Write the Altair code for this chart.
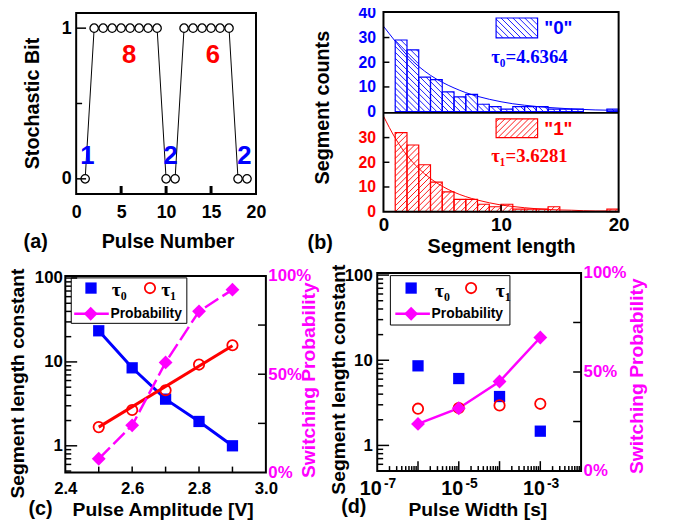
import math
import altair as alt
import pandas as pd

# ---------------- data ----------------
pulse_number = list(range(1, 20))
stochastic_bit = [0, 1, 1, 1, 1, 1, 1, 1, 1, 0, 0, 1, 1, 1, 1, 1, 1, 0, 0]
run_text = ["1", "8", "2", "6", "2"]
run_x = [1.25, 5.9, 10.5, 15.2, 18.7]
run_y = [0.15, 0.82, 0.15, 0.82, 0.15]
run_kind = ["zero", "one", "zero", "one", "zero"]

seg_bin_start = list(range(1, 20))
seg_counts_0 = [29, 25, 14, 13, 8, 6, 7, 3, 2, 1, 2, 2, 2, 1, 1, 1, 0, 0, 1]
seg_counts_1 = [32, 27, 19, 12, 8, 5, 5, 3, 2, 3, 1, 1, 1, 2, 0, 0, 0, 0, 1]
fit_len = list(range(0, 21))
fit_counts_0 = [34.6, 28.5, 22.8, 18.3, 14.7, 11.9, 9.6, 7.7, 6.2, 5.0, 4.0,
                3.2, 2.6, 2.1, 1.7, 1.4, 1.1, 0.9, 0.7, 0.6, 0.5]
fit_counts_1 = [38.7, 29.8, 22.8, 17.5, 13.4, 10.3, 7.9, 6.1, 4.7, 3.6, 2.7,
                2.1, 1.6, 1.2, 0.9, 0.7, 0.6, 0.4, 0.3, 0.3, 0.2]

amp_v = [2.5, 2.6, 2.7, 2.8, 2.9]
amp_tau0 = [23.5, 8.5, 3.6, 1.95, 1.0]
amp_tau1 = [1.67, 2.67, 4.6, 9.3, 15.8]
amp_prob = [0.07, 0.24, 0.56, 0.82, 0.93]
amp_fit_v = [2.5, 2.9]
amp_fit_tau1 = [1.67, 15.6]

width_s = [1e-6, 1e-5, 1e-4, 1e-3]
width_tau0 = [8.6, 6.1, 3.75, 1.47]
width_tau1 = [2.7, 2.75, 2.95, 3.08]
width_prob = [0.238, 0.317, 0.452, 0.674]

# tick / label lists
a_x_labels = [0, 5, 10, 15, 20]
a_x_ticks = [5, 10, 15]
a_y_labels = [0, 1]
a_y_minor = [0.5]
b0_y_labels = [0, 10, 20, 30, 40]
b1_y_labels = [0, 10, 20, 30]
b_y_ticks = [10, 20, 30]
b_x_labels = [0, 10, 20]
b_x_ticks = [10]
c_x_labels = [2.4, 2.6, 2.8, 3.0]
c_x_ticks = [2.5, 2.6, 2.7, 2.8, 2.9]
log_major = [1, 10, 100]
log_minor = [0.5, 0.6, 0.7, 0.8, 0.9, 2, 3, 4, 5, 6, 7, 8, 9,
             20, 30, 40, 50, 60, 70, 80, 90]
prob_labels = [0, 0.5, 1.0]
prob_ticks = [0.25, 0.5, 0.75]
d_x_labels = [1e-7, 1e-5, 1e-3]
d_x_major = [1e-6, 1e-5, 1e-4, 1e-3]
d_x_minor = [m * 10.0 ** e for e in range(-7, -2) for m in range(2, 10)]

# ---------------- style / layout ----------------
W, H = 670, 521
SANS, SERIF = "Liberation Sans", "Liberation Serif"
BLUE, RED, MAG = "#0000FF", "#FF0000", "#FF00FF"
ONE = pd.DataFrame({"k": [0]})


def lin(dom, rng):
    return alt.Scale(type="linear", domain=dom, range=rng, zero=False, nice=False)


def logs(dom, rng):
    return alt.Scale(type="log", domain=dom, range=rng, nice=False)


def _axis(orient, offset, values, pad, size, color, align, fmt=None, expr=None, loff=None, font=SANS):
    kw = dict(orient=orient, offset=offset, values=values, ticks=False, tickSize=0,
              domain=False, grid=False, labelPadding=pad, labelFont=font,
              labelFontWeight="bold", labelFontSize=size, labelColor=color,
              labelBaseline="middle", labelAlign=align, labelFlush=False,
              labelOverlap=False, title=None)
    if fmt:
        kw["format"] = fmt
    if expr:
        kw["labelExpr"] = expr
    if loff is not None:
        kw["labelOffset"] = loff
    return alt.Axis(**kw)


def bottom_axis(values, y, pad, size, color="black", **k):
    return _axis("bottom", y - H, values, pad, size, color, "center", **k)


def left_axis(values, x, pad, size, color="black", **k):
    return _axis("left", -x, values, pad, size, color, "right", **k)


def right_axis(values, x, pad, size, color="black", **k):
    return _axis("right", x - W, values, pad, size, color, "left", **k)


def xticks(values, scale, y0, y1, sw=1.5, axis=None):
    return alt.Chart(pd.DataFrame({"v": values})).mark_rule(color="black", strokeWidth=sw).encode(
        x=alt.X("v:Q", scale=scale, axis=axis), y=alt.value(y0), y2=alt.value(y1))


def yticks(values, scale, x0, x1, sw=1.5, axis=None, color="black"):
    return alt.Chart(pd.DataFrame({"v": values})).mark_rule(color=color, strokeWidth=sw).encode(
        y=alt.Y("v:Q", scale=scale, axis=axis), x=alt.value(x0), x2=alt.value(x1))


def label(text, x, y, size, color="black", angle=0, font=SANS, align="center"):
    kw = dict(text=text, font=font, fontSize=size, fontWeight="bold", color=color,
              align=align, baseline="middle")
    if angle:
        kw["angle"] = angle
    return alt.Chart(ONE).mark_text(**kw).encode(x=alt.value(x), y=alt.value(y))


def box(x0, x1, y0, y1, sw=2, fill="transparent", color="black"):
    return alt.Chart(ONE).mark_rect(fill=fill, stroke=color, strokeWidth=sw).encode(
        x=alt.value(x0), x2=alt.value(x1), y=alt.value(y0), y2=alt.value(y1))


def prule(x0, x1, y0, y1, color="black", sw=2, dash=None):
    kw = dict(color=color, strokeWidth=sw)
    if dash:
        kw["strokeDash"] = dash
    return alt.Chart(ONE).mark_rule(**kw).encode(
        x=alt.value(x0), x2=alt.value(x1), y=alt.value(y0), y2=alt.value(y1))


def psym(x, y, shape, size, color, filled=True, sw=1.5):
    if filled:
        m = alt.Chart(ONE).mark_point(shape=shape, size=size, filled=True, color=color, opacity=1)
    else:
        m = alt.Chart(ONE).mark_point(shape=shape, size=size, filled=False, color=color,
                                      strokeWidth=sw, opacity=1)
    return m.encode(x=alt.value(x), y=alt.value(y))


def hatch(rects, sx, sy, step, kind):
    rows = []
    for (x0, x1, v0, v1) in rects:
        ua, ub = sorted((x0 * sx, x1 * sx))
        wa, wb = sorted((v0 * sy, v1 * sy))
        if kind == "back":
            k0, k1 = math.ceil((ua + wa) / step), math.floor((ub + wb) / step)
            for kk in range(k0, k1 + 1):
                c = kk * step
                lo, hi = max(ua, c - wb), min(ub, c - wa)
                if hi - lo > 0.3:
                    rows.append((lo / sx, (c - lo) / sy, hi / sx, (c - hi) / sy))
        else:
            k0, k1 = math.ceil((wa - ub) / step), math.floor((wb - ua) / step)
            for kk in range(k0, k1 + 1):
                c = kk * step
                lo, hi = max(ua, wa - c), min(ub, wb - c)
                if hi - lo > 0.3:
                    rows.append((lo / sx, (c + lo) / sy, hi / sx, (c + hi) / sy))
    return pd.DataFrame(rows, columns=["x", "y", "x2", "y2"])


layers = []

# ================= panel (a) =================
sxA = lin([0, 20], [69, 251])
syA = lin([-0.1, 1.1], [185, 2])
dfA = pd.DataFrame({"pulse": pulse_number, "bit": stochastic_bit})
layers.append(alt.Chart(dfA).mark_line(color="black", strokeWidth=1).encode(
    x=alt.X("pulse:Q", scale=sxA, axis=None), y=alt.Y("bit:Q", scale=syA, axis=None)))
layers.append(alt.Chart(dfA).mark_circle(size=72, fill="white", stroke="black",
                                         strokeWidth=1.3, opacity=1).encode(
    x=alt.X("pulse:Q", scale=sxA, axis=None), y=alt.Y("bit:Q", scale=syA, axis=None)))
dfRun = pd.DataFrame({"t": run_text, "x": run_x, "y": run_y, "kind": run_kind})
layers.append(alt.Chart(dfRun).mark_text(font=SANS, fontWeight="bold", fontSize=26,
                                         baseline="middle", align="center").encode(
    x=alt.X("x:Q", scale=sxA, axis=None), y=alt.Y("y:Q", scale=syA, axis=None),
    text="t:N",
    color=alt.Color("kind:N", scale=alt.Scale(domain=["zero", "one"], range=[BLUE, RED]), legend=None)))
layers.append(xticks(a_x_ticks, sxA, 185, 177, sw=3, axis=bottom_axis(a_x_labels, 185, 19, 18)))
layers.append(yticks(a_y_labels, syA, 69, 79, axis=left_axis(a_y_labels, 69, 5, 18, fmt="d")))
layers.append(yticks(a_y_minor, syA, 69, 75))
layers.append(box(69, 251, 2, 185))
layers.append(label("Stochastic Bit", 25, 93.5, 20, angle=270))
layers.append(label("Pulse Number", 162, 234, 20))
layers.append(label("(a)", 28, 234, 20))

# ================= panel (b) =================
sxB = lin([0, 20], [380, 618])
sy0 = lin([-0.5, 40], [103, 1.75])
sy1 = lin([0, 40], [203, 103])
SXB, SYB = 238 / 20, 2.5


def hist_layers(counts, fit, ys, color, kind, swatch):
    df = pd.DataFrame({"s": seg_bin_start, "e": [b + 1 for b in seg_bin_start],
                       "c": counts, "base": [0] * len(counts)})
    df = df[df["c"] > 0]
    hd = hatch([(r.s, r.e, 0, r.c) for r in df.itertuples()], SXB, SYB, 6, kind)
    out = [
        alt.Chart(hd).mark_rule(color=color, strokeWidth=0.9).encode(
            x=alt.X("x:Q", scale=sxB, axis=None), y=alt.Y("y:Q", scale=ys, axis=None),
            x2="x2:Q", y2="y2:Q"),
        alt.Chart(df).mark_rect(fill="transparent", stroke=color, strokeWidth=1.2).encode(
            x=alt.X("s:Q", scale=sxB, axis=None), x2="e:Q",
            y=alt.Y("base:Q", scale=ys, axis=None), y2="c:Q"),
        alt.Chart(pd.DataFrame({"len": fit_len, "fit": fit})).mark_line(
            color=color, strokeWidth=1, interpolate="monotone").encode(
            x=alt.X("len:Q", scale=sxB, axis=None), y=alt.Y("fit:Q", scale=ys, axis=None)),
    ]
    x0, x1, y0, y1 = swatch
    sh = hatch([(x0, x1, y0, y1)], 1, -1, 6, kind)
    out.append(alt.Chart(sh).mark_rule(color=color, strokeWidth=0.9).encode(
        x=alt.X("x:Q", scale=None), y=alt.Y("y:Q", scale=None), x2="x2:Q", y2="y2:Q"))
    out.append(box(x0, x1, y0, y1, sw=1.2, color=color))
    return out


layers += hist_layers(seg_counts_0, fit_counts_0, sy0, BLUE, "back", (494, 536, 7, 27))
layers += hist_layers(seg_counts_1, fit_counts_1, sy1, RED, "fwd", (494, 536, 109, 128))
layers.append(label('"0"', 557, 17.5, 19, color=BLUE))
layers.append(label('"1"', 557, 119.5, 19, color=RED))
layers.append(label("τ₀=4.6364", 489, 46.8, 19, color=BLUE, font=SERIF, align="left"))
layers.append(label("τ₁=3.6281", 489, 146.8, 19, color=RED, font=SERIF, align="left"))
layers.append(yticks(b_y_ticks, sy0, 380, 386, axis=left_axis(b0_y_labels, 380, 8, 16, BLUE)))
layers.append(yticks(b_y_ticks, sy1, 380, 386, axis=left_axis(b1_y_labels, 380, 8, 16, RED)))
layers.append(xticks(b_x_ticks, sxB, 203, 196, axis=bottom_axis(b_x_labels, 203, 13.5, 19)))
layers.append(box(380, 618, 1, 203))
layers.append(prule(380, 618, 103, 103))
layers.append(label("Segment counts", 318.5, 97.7, 20, angle=270))
layers.append(label("Segment length", 499.5, 238.5, 20))
layers.append(label("(b)", 316, 235, 20))

# ================= panel (c) =================
sxC = lin([2.4, 3.0], [58, 261])
syC = logs([0.48, 106], [467, 268])
spC = lin([0, 1], [467, 268])
dfC = pd.DataFrame({"v": amp_v, "t0": amp_tau0, "t1": amp_tau1, "p": amp_prob})
dfCf = pd.DataFrame({"v": amp_fit_v, "t1": amp_fit_tau1})
XC = alt.X("v:Q", scale=sxC, axis=None)
layers.append(alt.Chart(dfC).mark_line(color=BLUE, strokeWidth=3).encode(
    x=XC, y=alt.Y("t0:Q", scale=syC, axis=None)))
layers.append(alt.Chart(dfCf).mark_line(color=RED, strokeWidth=3).encode(
    x=XC, y=alt.Y("t1:Q", scale=syC, axis=None)))
layers.append(alt.Chart(dfC).mark_line(color=MAG, strokeWidth=2.5, strokeDash=[16, 5]).encode(
    x=XC, y=alt.Y("p:Q", scale=spC, axis=None)))
layers.append(alt.Chart(dfC).mark_square(size=130, color=BLUE, opacity=1).encode(
    x=XC, y=alt.Y("t0:Q", scale=syC, axis=None)))
layers.append(alt.Chart(dfC).mark_point(shape="circle", size=110, filled=False, color=RED,
                                        strokeWidth=1.8, opacity=1).encode(
    x=XC, y=alt.Y("t1:Q", scale=syC, axis=None)))
layers.append(alt.Chart(dfC).mark_point(shape="diamond", size=196, filled=True, color=MAG,
                                        opacity=1).encode(
    x=XC, y=alt.Y("p:Q", scale=spC, axis=None)))
# legend (c)
layers.append(box(64, 181, 270, 316, sw=1, fill="white"))
layers.append(psym(84, 280.3, "square", 130, BLUE))
layers.append(label("τ₀", 105, 282, 20, font=SERIF, align="left"))
layers.append(psym(143.7, 280.3, "circle", 110, RED, filled=False, sw=1.8))
layers.append(label("τ₁", 155, 282, 20, font=SERIF, align="left"))
layers.append(prule(67, 102, 306.3, 306.3, color=MAG, sw=2.5))
layers.append(psym(83.7, 306.3, "diamond", 196, MAG))
layers.append(label("Probability", 103.7, 306.3, 14, align="left"))
# axes (c)
layers.append(xticks(c_x_ticks, sxC, 467, 461, axis=bottom_axis(c_x_labels, 467, 16, 17, fmt=".1f")))
layers.append(yticks(log_major, syC, 58, 70, axis=left_axis(log_major, 58, 3, 17, fmt="d")))
layers.append(yticks(log_minor, syC, 58, 64))
layers.append(yticks(prob_ticks, spC, 261, 253, axis=right_axis(prob_labels, 261, 2, 17, MAG, fmt=".0%")))
layers.append(box(58, 261, 268, 467))
layers.append(label("Segment length constant", 10.5, 377, 19.5, angle=270))
layers.append(label("Switching Probability", 305, 373.5, 19.5, color=MAG, angle=270))
layers.append(label("Pulse Amplitude [V]", 157, 505, 19.5))
layers.append(label("(c)", 33, 504, 20))

# ================= panel (d) =================
sxD = logs([1e-7, 1e-2], [373.7, 580])
syD = logs([0.5, 106], [465.5, 265])
spD = lin([0, 1], [465.5, 265])
dfD = pd.DataFrame({"w": width_s, "t0": width_tau0, "t1": width_tau1, "p": width_prob})
XD = alt.X("w:Q", scale=sxD, axis=None)
layers.append(alt.Chart(dfD).mark_line(color=MAG, strokeWidth=2.5).encode(
    x=XD, y=alt.Y("p:Q", scale=spD, axis=None)))
layers.append(alt.Chart(dfD).mark_square(size=130, color=BLUE, opacity=1).encode(
    x=XD, y=alt.Y("t0:Q", scale=syD, axis=None)))
layers.append(alt.Chart(dfD).mark_point(shape="circle", size=110, filled=False, color=RED,
                                        strokeWidth=1.8, opacity=1).encode(
    x=XD, y=alt.Y("t1:Q", scale=syD, axis=None)))
layers.append(alt.Chart(dfD).mark_point(shape="diamond", size=196, filled=True, color=MAG,
                                        opacity=1).encode(
    x=XD, y=alt.Y("p:Q", scale=spD, axis=None)))
# legend (d)
layers.append(box(387, 508, 267.7, 317.7, sw=1, fill="white"))
layers.append(psym(408, 280.3, "square", 130, BLUE))
layers.append(label("τ₀", 432, 283.5, 20, font=SERIF, align="left"))
layers.append(psym(468.7, 280.3, "circle", 110, RED, filled=False, sw=1.8))
layers.append(label("τ₁", 493.7, 283.5, 20, font=SERIF, align="left"))
layers.append(prule(392, 427, 306.3, 306.3, color=MAG, sw=2.5))
layers.append(psym(408, 306.3, "diamond", 196, MAG))
layers.append(label("Probability", 428.7, 306.3, 14, align="left"))
# axes (d)
layers.append(xticks(d_x_major, sxD, 465.5, 455.5,
                     axis=bottom_axis(d_x_labels, 465.5, 18, 20, expr="'10'", loff=-7)))
layers.append(xticks(d_x_minor, sxD, 465.5, 460.5,
                     axis=bottom_axis(d_x_labels, 465.5, 12.5, 14,
                                      expr="datum.value < 3e-7 ? '-7' : (datum.value < 3e-5 ? '-5' : '-3')",
                                      loff=12.5)))
layers.append(yticks(log_major, syD, 373.7, 385.7, axis=left_axis(log_major, 373.7, 5, 17, fmt="d")))
layers.append(yticks(log_minor, syD, 373.7, 379.7))
layers.append(yticks(prob_ticks, spD, 580, 572, axis=right_axis(prob_labels, 580, 2, 17, MAG, fmt=".0%")))
layers.append(box(373.7, 580, 265, 465.5))
layers.append(label("Segment length constant", 335, 373, 19.5, angle=270))
layers.append(label("Switching Probability", 637, 369.5, 19.5, color=MAG, angle=270))
layers.append(label("Pulse Width [s]", 475.5, 505, 19.5))
layers.append(label("(d)", 350, 502, 20))

chart = alt.layer(*layers).resolve_scale(x="independent", y="independent").properties(
    width=W, height=H, padding=0, autosize=alt.AutoSizeParams(type="none")
).configure_view(strokeWidth=0)

chart.save("out.html", embed_options={"renderer": "svg", "actions": False})
